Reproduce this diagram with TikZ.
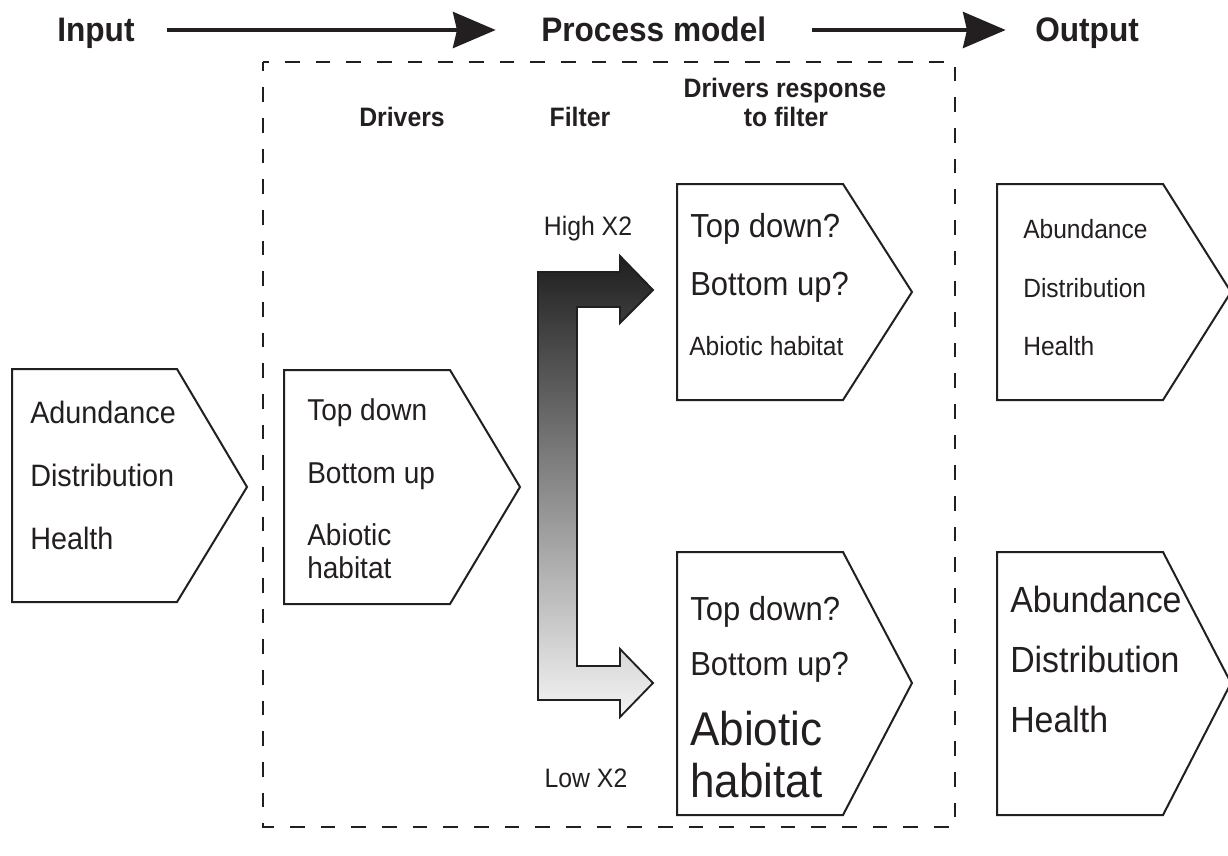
\documentclass[tikz,border=0pt]{standalone}
\usepackage{fontspec}
\setmainfont{Liberation Sans}[FakeStretch=0.93]
\usetikzlibrary{arrows.meta}
\definecolor{ink}{RGB}{35,31,32}
\newcommand\setfs[1]{\fontsize{#1}{#1}\selectfont}
\begin{document}
\begin{tikzpicture}[x=0.75pt,y=-0.75pt,
  pent/.style={draw=ink, line width=1.5pt, line join=miter, fill=white},
  lbl/.style={inner sep=0pt, anchor=base west, text=ink},
  hdtop/.style={inner sep=0pt, anchor=base west, text=ink, font=\bfseries\setfs{25.5pt},
    text height=20pt, text depth=2pt},
  hdsub/.style={inner sep=0pt, anchor=base, text=ink, font=\bfseries\setfs{20pt}},
  toparrow/.style={draw=ink, line width=3pt,
    -{Stealth[length=32pt, width=27pt, inset=3pt]}},
  zone/.style={draw=ink, line width=2pt, dash pattern=on 11pt off 12pt, dash phase=4pt},
  filterarrow/.style={draw=ink, line width=1.4pt, line join=miter,
    top color=black!88, bottom color=black!4}
]
\useasboundingbox (0,0) rectangle (1228,856);

% title row
\node[hdtop] (inp) at (57,42) {Input};
\node[hdtop] (proc) at (541,42) {Process model};
\node[hdtop] (outp) at (1035,42) {Output};
\draw[toparrow] ([xshift=24pt]inp.east) -- ([xshift=-34pt]proc.west);
\draw[toparrow] ([xshift=34pt]proc.east) -- ([xshift=-22pt]outp.west);

% process model frame
\draw[zone] (263,62) rectangle (955,827);

% column headings
\node[hdsub] (hdrv) at (402,127) {Drivers};
\node[hdsub] (hflt) at (580,127) {Filter};
\node[hdsub] (hrsa) at (785,98) {Drivers response};
\node[hdsub] (hrsb) at (786,127) {to filter};

% input
\draw[pent] (12,369) -- (177,369) -- (247,487) -- (177,602) -- (12,602) -- cycle;
\node[lbl, font=\setfs{23.2pt}] (i1) at (30,423) {Adundance};
\node[lbl, font=\setfs{23.2pt}] (i2) at (30,486) {Distribution};
\node[lbl, font=\setfs{23.2pt}] (i3) at (30,549) {Health};

% drivers
\draw[pent] (284,370) -- (450,370) -- (520,487) -- (450,604) -- (284,604) -- cycle;
\node[lbl, font=\setfs{22.6pt}] (d1) at (307,420) {Top down};
\node[lbl, font=\setfs{22.6pt}] (d2) at (307,483) {Bottom up};
\node[lbl, font=\setfs{22.6pt}] (d3) at (307,545) {Abiotic};
\node[lbl, font=\setfs{22.6pt}] (d4) at (307,578) {habitat};

% filter
\path[filterarrow] (538,272) -- (620,272) -- (620,256) -- (653,290) -- (620,323)
  -- (620,307) -- (577,307) -- (577,666) -- (620,666) -- (620,649) -- (653,683)
  -- (620,717) -- (620,700) -- (538,700) -- cycle;
\node[inner sep=0pt, anchor=base, text=ink, font=\setfs{20pt}] (hi) at (588,235) {High X2};
\node[inner sep=0pt, anchor=base, text=ink, font=\setfs{20pt}] (lo) at (586,787) {Low X2};

% response to high filter
\draw[pent] (677,184) -- (843,184) -- (912,292) -- (843,400) -- (677,400) -- cycle;
\node[lbl, font=\setfs{25pt}] (ra1) at (690,237) {Top down?};
\node[lbl, font=\setfs{25pt}] (ra2) at (690,295) {Bottom up?};
\node[lbl, font=\setfs{19.8pt}] (ra3) at (689,355) {Abiotic habitat};

% response to low filter
\draw[pent] (677,552) -- (843,552) -- (912,683) -- (843,815) -- (677,815) -- cycle;
\node[lbl, font=\setfs{25pt}] (rb1) at (690,620) {Top down?};
\node[lbl, font=\setfs{25pt}] (rb2) at (690,675) {Bottom up?};
\node[lbl, font=\setfs{35.5pt}] (rb3) at (690,745) {Abiotic};
\node[lbl, font=\setfs{35.5pt}] (rb4) at (690,797) {habitat};

% outputs
\draw[pent] (997,184) -- (1163,184) -- (1231,292) -- (1163,400) -- (997,400) -- cycle;
\node[lbl, font=\setfs{19.8pt}] (oa1) at (1023,238) {Abundance};
\node[lbl, font=\setfs{19.8pt}] (oa2) at (1023,297) {Distribution};
\node[lbl, font=\setfs{19.8pt}] (oa3) at (1023,355) {Health};

\draw[pent] (997,552) -- (1163,552) -- (1231,683) -- (1163,815) -- (997,815) -- cycle;
\node[lbl, font=\setfs{27.3pt}] (ob1) at (1010,612) {Abundance};
\node[lbl, font=\setfs{27.3pt}] (ob2) at (1010,672) {Distribution};
\node[lbl, font=\setfs{27.3pt}] (ob3) at (1010,732) {Health};
\end{tikzpicture}
\end{document}
